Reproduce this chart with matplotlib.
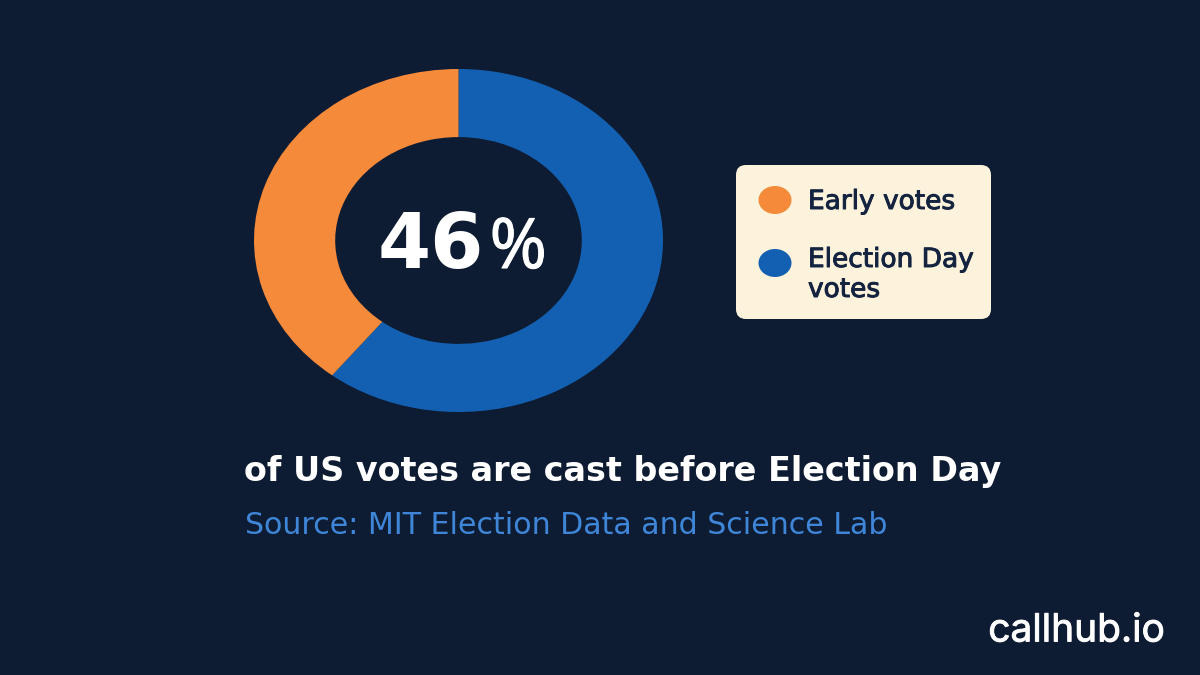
import matplotlib
matplotlib.use('Agg')
import matplotlib.pyplot as plt
import matplotlib.patheffects as pe
from matplotlib.patches import FancyBboxPatch, Ellipse

# shares as drawn (the ring shows about 39/61 even though the label says 46%)
labels = ['Election Day votes', 'Early votes']
shares = [60.6, 39.4]
colors = ['#1360b2', '#f58a3a']
big_value = '46'
big_unit = '%'
caption = 'of US votes are cast before Election Day'
source = 'Source: MIT Election Data and Science Lab'
brand = 'callhub.io'

bg = '#0e1c33'
ink = '#14233f'
H = 675
plt.rcParams['font.family'] = ['DejaVu Sans']

fig = plt.figure(figsize=(12, 6.75), dpi=100, facecolor=bg)

# donut is squashed: 409 px wide, 343 px tall
ax = fig.add_axes([254 / 1200, 1 - 412 / H, 409 / 1200, 343 / H])
ax.pie(shares, colors=colors, startangle=90, counterclock=False, radius=1.0,
       wedgeprops=dict(width=0.397, linewidth=0))
ax.set_aspect('auto')
ax.set_xlim(-1, 1)
ax.set_ylim(-1, 1)
ax.axis('off')

# pixel overlay for text and legend card
ov = fig.add_axes([0, 0, 1, 1], zorder=2)
ov.set_xlim(0, 1200)
ov.set_ylim(H, 0)
ov.axis('off')


def stroke(w, c):
    return [pe.withStroke(linewidth=w, foreground=c)]


# the digits are heavy and the percent sign lighter, so they are two texts
ov.text(378, 268, big_value, color='white', fontsize=55, fontweight='bold', ha='left', va='baseline')
ov.text(547, 268, big_unit, color='white', fontsize=50, family='Open Sans', ha='right', va='baseline',
        path_effects=stroke(0.8, 'white'))
ov.text(244, 472, caption, color='white', fontsize=24, fontweight='bold', ha='left', va='center')
ov.text(245, 525, source, color='#3f86d8', fontsize=21.6, ha='left', va='center')
ov.text(1165, 631, brand, color='white', fontsize=28, family='Inter', ha='right', va='center',
        path_effects=stroke(0.6, 'white'))

# legend card
ov.add_patch(FancyBboxPatch((736, 165), 255, 154, boxstyle='round,pad=0,rounding_size=10',
                            fc='#fdf3dc', ec='none'))
ov.add_patch(Ellipse((775, 200), 33, 28, fc=colors[1], ec='none'))
ov.add_patch(Ellipse((775, 263), 33, 28, fc=colors[0], ec='none'))
ov.text(808, 202, labels[1], color=ink, fontsize=19, va='center', path_effects=stroke(0.7, ink))
ov.text(808, 275, 'Election Day\nvotes', color=ink, fontsize=19, va='center',
        linespacing=1.2, path_effects=stroke(0.7, ink))

fig.savefig('out.png', dpi=100, facecolor=bg)
